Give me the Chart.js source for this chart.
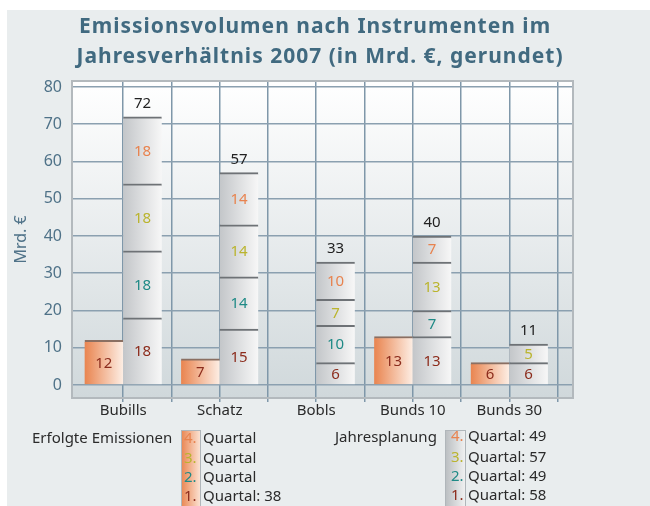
<!DOCTYPE html>
<html>
<head>
<meta charset="utf-8">
<script src="https://cdn.jsdelivr.net/npm/chart.js@4"></script>
<style>
  html, body { margin: 0; padding: 0; background: #fff; }
  #wrap { width: 650px; height: 506px; }
</style>
</head>
<body>
<div id="wrap"><canvas id="chart" width="650" height="506"></canvas></div>
<script>
// ===== Data =====
const categories = ["Bubills", "Schatz", "Bobls", "Bunds 10", "Bunds 30"];
const erfolgtQ1 = [12, 7, null, 13, 6];       // Erfolgte Emissionen (1. Quartal)
const planQ1 = [18, 15, 6, 13, 6];            // Jahresplanung 1. Quartal
const planQ2 = [18, 14, 10, 7, null];
const planQ3 = [18, 14, 7, 13, 5];
const planQ4 = [18, 14, 10, 7, null];
const planTotals = [72, 57, 33, 40, 11];
const yTickValues = [0, 10, 20, 30, 40, 50, 60, 70, 80];
const xGridValues = [0, 0.5, 1, 1.5, 2, 2.5, 3, 3.5, 4, 4.5];

const titleLines = ["Emissionsvolumen nach Instrumenten im", "Jahresverhältnis 2007 (in Mrd. €, gerundet)"];
const legendLeft = ["4. |Quartal", "3. |Quartal", "2. |Quartal", "1. |Quartal: 38"];
const legendRight = ["4. |Quartal: 49", "3. |Quartal: 57", "2. |Quartal: 49", "1. |Quartal: 58"];

// ===== Colours =====
const qColors = { q1: "#8c2c1c", q2: "#1f8a86", q3: "#bab42e", q4: "#e8834f" };
const legendNumColors = [qColors.q4, qColors.q3, qColors.q2, qColors.q1];
const FONT = "'Noto Sans', sans-serif";
const BAR_W = 38.6;

// ===== Helpers =====
function barGradient(ctx, side, from, to) {
  const chart = ctx.chart;
  if (ctx.type !== "data" || !chart.chartArea || !chart.scales.x) return from;
  const cx = chart.scales.x.getPixelForValue(ctx.dataIndex);
  const x0 = side === "left" ? cx - BAR_W : cx;
  const g = chart.ctx.createLinearGradient(x0, 0, x0 + BAR_W, 0);
  g.addColorStop(0, from);
  g.addColorStop(1, to);
  return g;
}
const orangeFill = (c) => barGradient(c, "left", "#e9844f", "#fdeee4");
const grayFill = (c) => barGradient(c, "right", "#c3c6c9", "#f7f7f7");

function toPoints(arr) {
  return arr.map((v, i) => ({ x: i, y: v }));
}

function makeDataset(label, arr, stack, fill, labelColor) {
  return {
    label,
    data: toPoints(arr),
    stack,
    backgroundColor: fill,
    borderColor: stack === "e" ? "#8a6f62" : "#6e7276",
    borderWidth: { top: 2, left: 0, right: 0, bottom: 0 },
    borderSkipped: false,
    barThickness: BAR_W,
    labelColor
  };
}

// ===== Plugin: background, title, frame, value labels, legend =====
const decor = {
  id: "decor",
  beforeDraw(chart) {
    const { ctx, chartArea: a } = chart;
    ctx.save();
    ctx.fillStyle = "#ffffff";
    ctx.fillRect(0, 0, chart.width, chart.height);
    ctx.fillStyle = "#e9edee";
    ctx.fillRect(7, 10, chart.width - 7, chart.height - 10);
    const bg = ctx.createLinearGradient(0, a.top, 0, a.bottom);
    bg.addColorStop(0, "#ffffff");
    bg.addColorStop(1, "#d0d8db");
    ctx.fillStyle = bg;
    ctx.fillRect(a.left, a.top, a.right - a.left, a.bottom - a.top);

    // title
    ctx.fillStyle = "#416a80";
    ctx.font = "bold 21px " + FONT;
    ctx.letterSpacing = "1px";
    ctx.textAlign = "center";
    ctx.textBaseline = "middle";
    ctx.fillText(titleLines[0], 315, 27);
    ctx.fillText(titleLines[1], 320, 57);
    ctx.restore();
  },
  beforeDatasetsDraw(chart) {
    const { ctx, chartArea: a } = chart;
    ctx.save();
    ctx.strokeStyle = "#b3b9bd";
    ctx.lineWidth = 2;
    ctx.strokeRect(a.left, a.top, a.right - a.left, a.bottom - a.top);
    ctx.restore();
  },
  afterDatasetsDraw(chart) {
    const ctx = chart.ctx;
    ctx.save();
    ctx.font = "15px " + FONT;
    ctx.textAlign = "center";
    ctx.textBaseline = "middle";
    chart.data.datasets.forEach((ds, di) => {
      const meta = chart.getDatasetMeta(di);
      meta.data.forEach((el, i) => {
        const v = ds.data[i].y;
        if (v == null) return;
        const p = el.getProps(["x", "y", "base"], true);
        ctx.fillStyle = ds.labelColor;
        ctx.fillText(String(v), p.x, (p.y + p.base) / 2 + 1);
      });
    });
    // totals on top of the plan stacks
    const ys = chart.scales.y, xs = chart.scales.x;
    ctx.fillStyle = "#222";
    planTotals.forEach((t, i) => {
      ctx.fillText(String(t), xs.getPixelForValue(i) + BAR_W / 2, ys.getPixelForValue(t) - 13);
    });
    ctx.restore();
  },
  afterDraw(chart) {
    const ctx = chart.ctx;
    ctx.save();
    ctx.font = "15px " + FONT;
    ctx.textBaseline = "middle";
    ctx.textAlign = "left";
    ctx.fillStyle = "#2b2b2b";
    ctx.fillText("Erfolgte Emissionen", 32, 439);
    ctx.fillText("Jahresplanung", 335, 438);

    // swatches
    let g = ctx.createLinearGradient(181, 0, 201, 0);
    g.addColorStop(0, "#e9844f");
    g.addColorStop(1, "#fce6d8");
    ctx.fillStyle = g;
    ctx.fillRect(181, 430, 20, 80);
    ctx.strokeStyle = "#b0b6ba";
    ctx.lineWidth = 1;
    ctx.strokeRect(181.5, 430.5, 19, 80);
    g = ctx.createLinearGradient(445, 0, 466, 0);
    g.addColorStop(0, "#b9bdc0");
    g.addColorStop(1, "#f2f3f3");
    ctx.fillStyle = g;
    ctx.fillRect(445, 430, 21, 80);
    ctx.strokeRect(445.5, 430.5, 20, 80);

    const rowsL = [439, 459, 478, 497];
    const rowsR = [437, 458, 477, 496];
    legendLeft.forEach((s, i) => {
      const [num, txt] = s.split("|");
      ctx.fillStyle = legendNumColors[i];
      ctx.fillText(num.trim(), 184, rowsL[i]);
      ctx.fillStyle = "#2b2b2b";
      ctx.fillText(txt, 203, rowsL[i]);
    });
    legendRight.forEach((s, i) => {
      const [num, txt] = s.split("|");
      ctx.fillStyle = legendNumColors[i];
      ctx.fillText(num.trim(), 451, rowsR[i]);
      ctx.fillStyle = "#2b2b2b";
      ctx.fillText(txt, 468, rowsR[i]);
    });
    ctx.restore();
  }
};

// ===== Chart =====
new Chart(document.getElementById("chart"), {
  type: "bar",
  data: {
    datasets: [
      makeDataset("Erfolgte Emissionen", erfolgtQ1, "e", orangeFill, qColors.q1),
      makeDataset("1. Quartal", planQ1, "p", grayFill, qColors.q1),
      makeDataset("2. Quartal", planQ2, "p", grayFill, qColors.q2),
      makeDataset("3. Quartal", planQ3, "p", grayFill, qColors.q3),
      makeDataset("4. Quartal", planQ4, "p", grayFill, qColors.q4)
    ]
  },
  options: {
    responsive: false,
    animation: false,
    devicePixelRatio: 1,
    layout: { padding: { top: 81, right: 77, bottom: 0, left: 0 } },
    plugins: { legend: { display: false }, tooltip: { enabled: false } },
    scales: {
      x: {
        type: "linear",
        stacked: true,
        offset: false,
        min: -0.53,
        max: 4.66,
        afterBuildTicks: (s) => { s.ticks = xGridValues.map(v => ({ value: v })); },
        afterFit: (s) => { s.height = 108; },
        ticks: {
          autoSkip: false,
          maxRotation: 0,
          padding: 0,
          color: "#2b2b2b",
          font: { size: 15, family: FONT },
          callback: (v) => Number.isInteger(v) ? categories[v] : ""
        },
        grid: { offset: false, color: "#7f97a9", lineWidth: 1.5, tickLength: 4 },
        border: { display: false }
      },
      y: {
        stacked: true,
        min: -3.5,
        max: 81.6,
        afterBuildTicks: (s) => { s.ticks = yTickValues.map(v => ({ value: v })); },
        afterFit: (s) => { s.width = 72; },
        ticks: {
          padding: 10,
          color: "#4f7288",
          font: { size: 16, family: FONT }
        },
        grid: { color: "#8ba0b0", lineWidth: 1.5, drawTicks: false },
        border: { display: false },
        title: {
          display: true,
          text: "Mrd. €",
          color: "#4f7288",
          font: { size: 16, family: FONT },
          padding: { top: 12, bottom: 0 }
        }
      }
    }
  },
  plugins: [decor]
});
</script>
</body>
</html>
